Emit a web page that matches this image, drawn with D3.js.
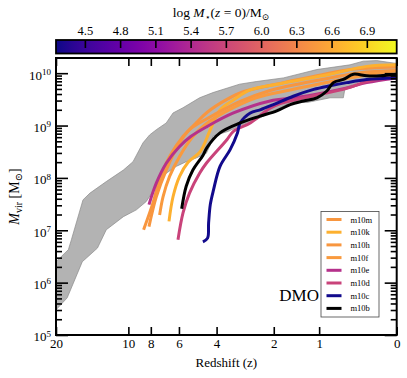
<!DOCTYPE html>
<html>
<head>
<meta charset="utf-8">
<script src="https://cdn.jsdelivr.net/npm/d3@7"></script>
<style>
  body { margin: 0; background: #fff; }
  text { font-family: "Liberation Serif", "DejaVu Serif", serif; fill: #000; }
</style>
</head>
<body>
<div id="output"></div>
<script>
var W = 407, H = 378;
var pL = 56, pR = 396.7, pT = 58, pB = 335;

// halos, legend order
var halos = ["m10m", "m10k", "m10h", "m10f", "m10e", "m10d", "m10c", "m10b"];
var colors = ["#f8963f", "#fdb02f", "#f8963f", "#f99a3e", "#b5318b", "#c9437a", "#120a8c", "#000000"];

// redshift and log10(Mvir / Msun)
var z_m10m = [8.6, 7.83, 7.32, 6.61, 5.75, 5.0, 4.45, 3.56, 2.92, 1.75, 1.04, 0.517, 0.16, 0];
var lgM_m10m = [7.01, 7.52, 7.96, 8.41, 8.79, 9.05, 9.25, 9.50, 9.65, 9.82, 9.95, 10.07, 10.11, 10.12];
var z_m10k = [6.65, 6.38, 5.96, 5.45, 4.79, 4.29, 3.85, 3.30, 2.70, 1.83, 0.813, 0.307, 0];
var lgM_m10k = [7.17, 7.64, 8.03, 8.30, 8.50, 8.92, 9.30, 9.49, 9.68, 9.80, 9.98, 10.13, 10.16];
var z_m10h = [8.15, 7.57, 6.84, 5.96, 5.37, 4.45, 3.05, 2.10, 1.37, 0.813, 0.388, 0];
var lgM_m10h = [7.07, 7.64, 8.15, 8.67, 8.92, 9.13, 9.46, 9.67, 9.80, 9.91, 10.01, 10.05];
var z_m10f = [7.32, 7.07, 6.61, 5.96, 5.18, 4.53, 3.63, 2.51, 1.59, 0.98, 0.517, 0.16, 0];
var lgM_m10f = [7.29, 7.64, 8.03, 8.41, 8.79, 9.02, 9.26, 9.53, 9.68, 9.80, 9.91, 10.01, 10.04];
var z_m10e = [8.15, 7.57, 6.84, 5.96, 5.3, 4.45, 3.30, 2.10, 1.50, 1.10, 0.563, 0.307, 0];
var lgM_m10e = [7.49, 7.90, 8.28, 8.60, 8.79, 8.98, 9.24, 9.47, 9.53, 9.59, 9.72, 9.82, 9.91];
var z_m10d = [6.06, 5.75, 5.37, 4.82, 4.48, 3.56, 3.30, 2.70, 2.29, 2.10, 1.83, 1.10, 0.563, 0.307, 0];
var lgM_m10d = [6.82, 7.33, 7.71, 8.09, 8.28, 8.73, 8.89, 9.05, 9.24, 9.33, 9.42, 9.57, 9.71, 9.84, 9.93];
var z_m10c = [4.65, 4.42, 4.37, 4.29, 4.14, 3.85, 3.43, 3.15, 3.05, 2.70, 2.39, 2.01, 1.52, 1.10, 0.813, 0.563, 0.307, 0];
var lgM_m10c = [6.78, 6.85, 7.14, 7.49, 7.77, 8.22, 8.54, 8.86, 9.05, 9.24, 9.30, 9.40, 9.56, 9.69, 9.76, 9.82, 9.88, 9.91];
var z_m10b = [5.83, 5.56, 5.18, 4.65, 4.45, 3.85, 3.05, 2.39, 1.92, 1.59, 1.30, 1.04, 0.867, 0.761, 0.611, 0.473, 0.307, 0.16, 0];
var lgM_m10b = [7.41, 7.84, 8.15, 8.43, 8.58, 8.86, 9.05, 9.18, 9.28, 9.40, 9.47, 9.53, 9.66, 9.82, 9.88, 9.98, 9.95, 9.95, 9.98];

var zs = [z_m10m, z_m10k, z_m10h, z_m10f, z_m10e, z_m10d, z_m10c, z_m10b];
var lgMs = [lgM_m10m, lgM_m10k, lgM_m10h, lgM_m10f, lgM_m10e, lgM_m10d, lgM_m10c, lgM_m10b];

// grey band (upper and lower edges)
var bandUpZ = [20, 17.8, 17.3, 15.5, 14.5, 12.4, 10.5, 9.55, 8.65, 8.1, 7.57, 6.84, 6.38, 5.75, 4.82, 4.16, 3.07, 2.51, 1.75, 1.04, 0.517, 0.348, 0.195, 0.015, 0];
var bandUpM = [6.40, 6.63, 6.82, 7.58, 7.71, 7.93, 8.15, 8.31, 8.67, 8.82, 8.92, 9.05, 9.24, 9.34, 9.53, 9.63, 9.79, 9.84, 9.91, 10.07, 10.16, 10.23, 10.24, 10.19, 10.19];
var bandLoZ = [20, 18.0, 15.6, 15.0, 13.5, 12.4, 10.5, 9.24, 8.37, 7.57, 6.84, 6.17, 5.56, 5.0, 4.48, 4.29, 4.16, 3.5, 3.05, 2.51, 1.59, 1.23, 0.813, 0.611, 0.586, 0.388, 0.127, 0];
var bandLoM = [5.48, 5.71, 6.40, 6.47, 6.66, 7.01, 7.26, 7.39, 7.55, 7.84, 8.09, 8.22, 8.31, 8.38, 8.47, 8.63, 8.80, 8.89, 9.00, 9.11, 9.44, 9.44, 9.53, 9.53, 9.72, 9.84, 9.94, 9.97];

var zTicks = [20, 10, 8, 6, 4, 2, 1, 0];
var yDecades = [5, 6, 7, 8, 9, 10];
var cbTicks = [4.5, 4.8, 5.1, 5.4, 5.7, 6.0, 6.3, 6.6, 6.9];
var cbRange = [4.25, 7.15];

var svg = d3.select('#output').append('svg')
  .attr('width', W)
  .attr('height', H);

var x = d3.scaleLog().domain([21, 1]).range([pL, pR]);
var y = d3.scaleLog().domain([1e5, Math.pow(10, 10.29)]).range([pB, pT]);

var line = d3.line()
  .x(function(d) { return x(1 + d[0]); })
  .y(function(d) { return y(Math.pow(10, d[1])); })
  .curve(d3.curveCatmullRom.alpha(0.5));

svg.append('clipPath').attr('id', 'clip')
  .append('rect').attr('x', pL).attr('y', pT)
  .attr('width', pR - pL).attr('height', pB - pT);

var plot = svg.append('g').attr('clip-path', 'url(#clip)');

// band
var bandPts = bandUpZ.map(function(z, i) { return [z, bandUpM[i]]; })
  .concat(bandLoZ.map(function(z, i) { return [z, bandLoM[i]]; }).reverse());
plot.append('path')
  .attr('d', d3.line().x(function(d) { return x(1 + d[0]); })
    .y(function(d) { return y(Math.pow(10, d[1])); })(bandPts) + 'Z')
  .attr('fill', '#b3b3b3')
  .attr('stroke', '#8a8a8a')
  .attr('stroke-width', 0.7);

// halo tracks
halos.forEach(function(name, i) {
  var pts = zs[i].map(function(z, j) { return [z, lgMs[i][j]]; });
  plot.append('path')
    .attr('d', line(pts))
    .attr('fill', 'none')
    .attr('stroke', colors[i])
    .attr('stroke-width', 3)
    .attr('stroke-linejoin', 'round');
});

// axes: ticks point inward on all four sides
var minors = [];
yDecades.forEach(function(e) {
  for (var k = 2; k <= 9; k++) {
    var v = k * Math.pow(10, e);
    if (v < y.domain()[1]) minors.push(v);
  }
});
var majors = yDecades.map(function(e) { return Math.pow(10, e); });

svg.append('g').attr('transform', 'translate(' + pL + ',0)')
  .call(d3.axisLeft(y).tickValues(minors).tickSizeInner(-6).tickSizeOuter(0).tickFormat(''));
svg.append('g').attr('transform', 'translate(' + pR + ',0)')
  .call(d3.axisRight(y).tickValues(minors).tickSizeInner(-6).tickSizeOuter(0).tickFormat(''));
svg.append('g').attr('transform', 'translate(' + pR + ',0)')
  .call(d3.axisRight(y).tickValues(majors).tickSizeInner(-12).tickSizeOuter(0).tickFormat(''));

var yAxis = svg.append('g').attr('transform', 'translate(' + pL + ',0)')
  .call(d3.axisLeft(y).tickValues(majors).tickSizeInner(-12).tickSizeOuter(0).tickPadding(5).tickFormat(''));
yAxis.selectAll('.tick text').each(function(d) {
  var t = d3.select(this).attr('font-size', 13).attr('dy', '0.45em');
  t.append('tspan').text('10');
  t.append('tspan').attr('dy', '-0.5em').attr('font-size', 9).text(Math.round(Math.log10(d)));
});

var xAxis = svg.append('g').attr('transform', 'translate(0,' + pB + ')')
  .call(d3.axisBottom(x).tickValues(zTicks.map(function(z) { return 1 + z; }))
    .tickSizeInner(-8).tickSizeOuter(0).tickPadding(4)
    .tickFormat(function(d) { return Math.round(d - 1); }));
xAxis.selectAll('.tick text').attr('font-size', 13).attr('font-family', '"Liberation Serif", serif');
svg.append('g').attr('transform', 'translate(0,' + pT + ')')
  .call(d3.axisTop(x).tickValues(zTicks.map(function(z) { return 1 + z; }))
    .tickSizeInner(-8).tickSizeOuter(0).tickFormat(''));

svg.selectAll('.domain').remove();
svg.selectAll('.tick line').attr('stroke', '#000').attr('stroke-width', 1.6);
yAxis.selectAll('.tick text').attr('font-family', '"Liberation Serif", serif');

// frame
svg.append('rect')
  .attr('x', pL).attr('y', pT)
  .attr('width', pR - pL).attr('height', pB - pT)
  .attr('fill', 'none').attr('stroke', '#000').attr('stroke-width', 2);

// axis titles
svg.append('text')
  .attr('x', (pL + pR) / 2).attr('y', 367)
  .attr('text-anchor', 'middle').attr('font-size', 13)
  .text('Redshift (z)');

var yl = svg.append('text')
  .attr('transform', 'translate(19,' + ((pT + pB) / 2) + ') rotate(-90)')
  .attr('text-anchor', 'middle').attr('font-size', 14);
yl.append('tspan').attr('font-style', 'italic').text('M');
yl.append('tspan').attr('dy', 3).attr('font-size', 10).text('vir');
yl.append('tspan').attr('dy', -3).text(' [M');
yl.append('tspan').attr('dy', 3).attr('font-size', 10).text('\u2299');
yl.append('tspan').attr('dy', -3).text(']');

// DMO label
svg.append('text')
  .attr('x', 319).attr('y', 301)
  .attr('text-anchor', 'end').attr('font-size', 17)
  .text('DMO');

// legend
var lg = svg.append('g');
lg.append('rect')
  .attr('x', 321).attr('y', 211.5).attr('width', 58).attr('height', 105.5)
  .attr('fill', '#fff').attr('stroke', '#444').attr('stroke-width', 0.8);
halos.forEach(function(name, i) {
  var yy = 219.5 + i * 12.7;
  lg.append('line')
    .attr('x1', 326.5).attr('x2', 341.5).attr('y1', yy).attr('y2', yy)
    .attr('stroke', colors[i]).attr('stroke-width', 3);
  lg.append('text')
    .attr('x', 350.5).attr('y', yy + 3)
    .attr('font-size', 8.5)
    .text(name);
});

// colour bar
var cb = d3.scaleLinear().domain(cbRange).range([pL, pR]);
var grad = svg.append('defs').append('linearGradient').attr('id', 'plasma');
d3.range(0, 1.0001, 0.05).forEach(function(t) {
  grad.append('stop').attr('offset', t).attr('stop-color', d3.interpolatePlasma(t));
});
svg.append('rect')
  .attr('x', pL).attr('y', 40).attr('width', pR - pL).attr('height', 13.5)
  .attr('fill', 'url(#plasma)').attr('stroke', '#000').attr('stroke-width', 1.8);
svg.selectAll('.cbtick')
  .data(cbTicks)
  .enter()
  .append('line')
  .attr('x1', function(d) { return cb(d); })
  .attr('x2', function(d) { return cb(d); })
  .attr('y1', 40).attr('y2', 48)
  .attr('stroke', '#000').attr('stroke-width', 1.6);
svg.selectAll('.cblabel')
  .data(cbTicks)
  .enter()
  .append('text')
  .attr('x', function(d) { return cb(d); })
  .attr('y', 34.5)
  .attr('text-anchor', 'middle').attr('font-size', 12.5)
  .text(function(d) { return d.toFixed(1); });

var ct = svg.append('text')
  .attr('x', 221).attr('y', 17)
  .attr('text-anchor', 'middle').attr('font-size', 13.5);
ct.append('tspan').text('log ');
ct.append('tspan').attr('font-style', 'italic').text('M');
ct.append('tspan').attr('dy', 3).attr('font-size', 9).text('\u22C6');
ct.append('tspan').attr('dy', -3).text('(');
ct.append('tspan').attr('font-style', 'italic').text('z');
ct.append('tspan').text(' = 0)/M');
ct.append('tspan').attr('dy', 3).attr('font-size', 9).text('\u2299');
</script>
</body>
</html>
